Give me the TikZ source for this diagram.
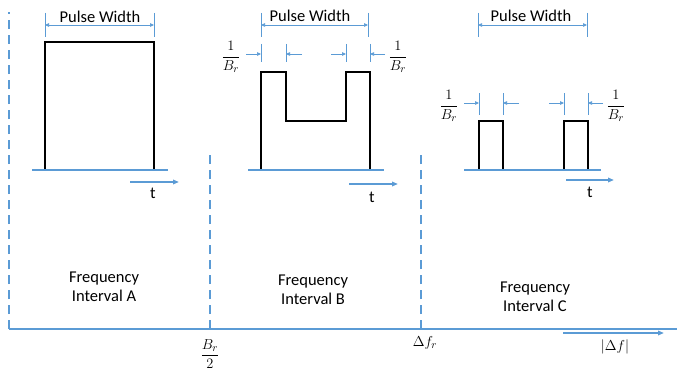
\documentclass[tikz,border=0pt]{standalone}
\usepackage{amsmath}
\usepackage{fontspec}
\setmainfont{Carlito}
\usetikzlibrary{arrows.meta}
\definecolor{ablue}{RGB}{91,155,213}
\begin{document}
\begin{tikzpicture}[x=1pt,y=-1pt,
 axis/.style={ablue,line width=2pt},
 vdash/.style={ablue,line width=2pt,dash pattern=on 9pt off 6pt},
 pulse/.style={black,line width=2pt,line join=miter},
 dim/.style={ablue,line width=0.7pt},
 dimarr/.style={ablue,line width=0.7pt,-{Triangle[length=4pt,width=3.5pt]}},
 twoarr/.style={ablue,line width=0.7pt,{Triangle[length=4pt,width=3.5pt]}-{Triangle[length=4pt,width=3.5pt]}},
 tarr/.style={ablue,line width=1.6pt,-{Triangle[length=6pt,width=4.5pt]}},
 lbl/.style={font=\fontsize{16.5}{19}\selectfont,inner sep=0pt,align=center},
 mth/.style={font=\fontsize{15}{17}\selectfont,inner sep=0pt}]
\useasboundingbox (0,0) rectangle (677,369);

% frequency axis and interval dividers
\coordinate (o) at (9,329);
\coordinate (xend) at (677,329);
\coordinate (ltop) at (9,12);
\draw[vdash] (o) -- (ltop);
\draw[axis] (o) -- (xend);
\coordinate (d1t) at (210,153); \coordinate (d1b) at (210,329);
\coordinate (d2t) at (421,153); \coordinate (d2b) at (421,329);
\draw[vdash] (d1b) -- (d1t);
\draw[vdash] (d2b) -- (d2t);
\coordinate (fa1) at (563,333); \coordinate (fa2) at (664,333);
\draw[tarr] (fa1) -- (fa2);
\node[mth] (lbr2) at (210,354) {$\dfrac{B_r}{2}$};
\node[mth] (ldfr) at (425,343) {$\Delta f_r$};
\node[mth] (ldf) at (615,347) {$|\Delta f|$};

% interval labels
\node[lbl] (ia) at (104,287) {Frequency\\Interval A};
\node[lbl] (ib) at (313,290) {Frequency\\Interval B};
\node[lbl] (ic) at (535,297) {Frequency\\Interval C};

% ---------- Pulse A ----------
\draw[pulse] (45,170) -- (45,42) -- (154,42) -- (154,170);
\coordinate (ba1) at (32,170); \coordinate (ba2) at (168,170);
\draw[axis] (ba1) -- (ba2);
\coordinate (ta1) at (130,182); \coordinate (ta2) at (179,182);
\draw[tarr] (ta1) -- (ta2);
\node[lbl] (tA) at (153,193) {t};
\draw[dim] (45,13) -- (45,37);
\draw[dim] (154,13) -- (154,37);
\coordinate (pwa1) at (45,25); \coordinate (pwa2) at (154,25);
\draw[twoarr] (pwa1) -- (pwa2);
\node[lbl] (pwA) at (100,17) {Pulse Width};

% ---------- Pulse B ----------
\draw[pulse] (261,170) -- (261,72) -- (286,72) -- (286,121) -- (346,121) -- (346,72) -- (370,72) -- (370,170);
\coordinate (bb1) at (248,170); \coordinate (bb2) at (384,170);
\draw[axis] (bb1) -- (bb2);
\coordinate (tb1) at (349,184); \coordinate (tb2) at (398,184);
\draw[tarr] (tb1) -- (tb2);
\node[lbl] (tB) at (372,197) {t};
\draw[dim] (261,13) -- (261,37);
\draw[dim] (368,13) -- (368,37);
\coordinate (pwb1) at (261,25); \coordinate (pwb2) at (368,25);
\draw[twoarr] (pwb1) -- (pwb2);
\node[lbl] (pwB) at (310,16) {Pulse Width};
\foreach \x in {261,286,346,370} \draw[dim] (\x,44) -- (\x,62);
\draw[dimarr] (246,54) -- (261,54);
\draw[dimarr] (302,54) -- (286,54);
\draw[dimarr] (331,54) -- (346,54);
\draw[dimarr] (385,54) -- (370,54);
\node[mth] (brB1) at (231,57) {$\dfrac{1}{B_r}$};
\node[mth] (brB2) at (398,57) {$\dfrac{1}{B_r}$};

% ---------- Pulse C ----------
\draw[pulse] (479,170) -- (479,121) -- (503,121) -- (503,170);
\draw[pulse] (564,170) -- (564,121) -- (588,121) -- (588,170);
\coordinate (bc1) at (464,170); \coordinate (bc2) at (601,170);
\draw[axis] (bc1) -- (bc2);
\coordinate (tc1) at (566,180); \coordinate (tc2) at (614,180);
\draw[tarr] (tc1) -- (tc2);
\node[lbl] (tC) at (590,192) {t};
\draw[dim] (478,13) -- (478,37);
\draw[dim] (587,13) -- (587,37);
\coordinate (pwc1) at (478,25); \coordinate (pwc2) at (587,25);
\draw[twoarr] (pwc1) -- (pwc2);
\node[lbl] (pwC) at (531,16) {Pulse Width};
\foreach \x in {479,503,564,588} \draw[dim] (\x,93) -- (\x,115);
\draw[dimarr] (464,103) -- (479,103);
\draw[dimarr] (519,103) -- (503,103);
\draw[dimarr] (549,103) -- (564,103);
\draw[dimarr] (603,103) -- (588,103);
\node[mth] (brC1) at (449,106) {$\dfrac{1}{B_r}$};
\node[mth] (brC2) at (616,106) {$\dfrac{1}{B_r}$};
\end{tikzpicture}
\end{document}
